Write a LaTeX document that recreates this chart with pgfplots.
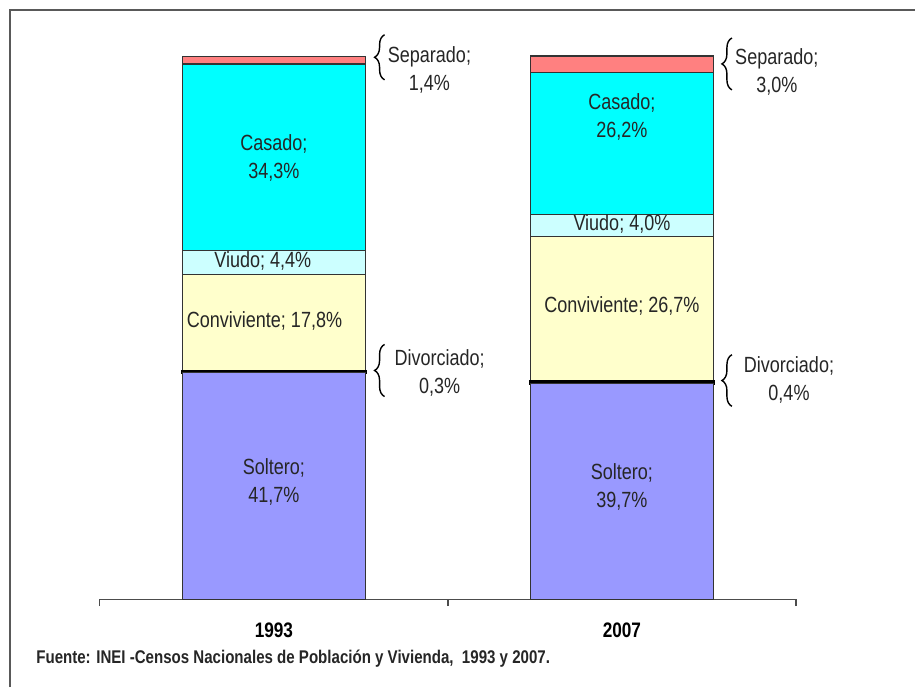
\documentclass[border=0pt]{standalone}
\usepackage{pgfplots}
\pgfplotsset{compat=1.18}
\usepackage{fontspec}
\setmainfont{Liberation Sans}[FakeStretch=0.82]
\usetikzlibrary{decorations.pathreplacing}

\definecolor{soltero}{HTML}{9999FF}
\definecolor{conviv}{HTML}{FFFFCC}
\definecolor{viudo}{HTML}{CCFFFF}
\definecolor{casado}{HTML}{00FFFF}
\definecolor{separado}{HTML}{FF8080}

\begin{document}
\begin{tikzpicture}[
    lbl/.style={font=\fontsize{11}{14}\selectfont, align=center, text=black!85},
    br/.style={decorate, decoration={brace, amplitude=5pt}, line width=0.7pt, black}
  ]
  % background and frame (picture is 916x688 px at 0.5pt per px)
  \path[fill=white] (-50pt,-44pt) rectangle (408pt,300pt);
  \draw[black!65, line width=1.2pt] (-45pt,-44pt) -- (-45pt,295pt) -- (408pt,295pt);

  \begin{axis}[
      scale only axis,
      width=348.5pt, height=272pt,
      xmin=0, xmax=2, ymin=0, ymax=100,
      enlargelimits=false,
      clip=false,
      axis x line=bottom, axis y line=none,
      x axis line style={-, black!70, line width=0.6pt},
      xtick={0,1,2},
      xticklabels={1993,2007},
      x tick label as interval,
      xtick style={black!70, line width=0.6pt},
      tick align=outside,
      major tick length=3.5pt,
      xticklabel style={font=\bfseries\fontsize{10.5}{12}\selectfont, yshift=-5pt},
      ybar stacked,
      bar width=0.525,
      every axis plot/.append style={draw=black!80, line width=0.6pt},
    ]
    % Soltero
    \addplot[fill=soltero] coordinates {(0.5,41.7) (1.5,39.7)};
    % Divorciado
    \addplot[fill=black, draw=black, line width=1.3pt] coordinates {(0.5,0.3) (1.5,0.4)};
    % Conviviente
    \addplot[fill=conviv] coordinates {(0.5,17.8) (1.5,26.7)};
    % Viudo
    \addplot[fill=viudo] coordinates {(0.5,4.4) (1.5,4.0)};
    % Casado
    \addplot[fill=casado] coordinates {(0.5,34.3) (1.5,26.2)};
    % Separado
    \addplot[fill=separado] coordinates {(0.5,1.4) (1.5,3.0)};

    % label anchors, used after the axis so the text sits above the bars
    \coordinate (sol1) at (axis cs:0.5,21.5);
    \coordinate (sol2) at (axis cs:1.5,20.6);
    \coordinate (con1) at (axis cs:0.473,51.3);
    \coordinate (con2) at (axis cs:1.5,53.9);
    \coordinate (viu1) at (axis cs:0.468,62.3);
    \coordinate (viu2) at (axis cs:1.5,69.1);
    \coordinate (cas1) at (axis cs:0.5,81.25);
    \coordinate (cas2) at (axis cs:1.5,88.8);

    % labels outside with braces
    \draw[br] (axis cs:0.818,95.6) -- (axis cs:0.818,103.9);
    \node[lbl] at (axis cs:0.947,97.5) {Separado;\\1,4\%};
    \draw[br] (axis cs:1.816,93.75) -- (axis cs:1.816,103.3);
    \node[lbl] at (axis cs:1.945,97.0) {Separado;\\3,0\%};
    \draw[br] (axis cs:0.818,37.3) -- (axis cs:0.818,46.9);
    \node[lbl] at (axis cs:0.976,41.7) {Divorciado;\\0,3\%};
    \draw[br] (axis cs:1.816,35.5) -- (axis cs:1.816,45.0);
    \node[lbl] at (axis cs:1.980,40.3) {Divorciado;\\0,4\%};
  \end{axis}

  \node[lbl] at (sol1) {Soltero;\\41,7\%};
  \node[lbl] at (sol2) {Soltero;\\39,7\%};
  \node[lbl] at (con1) {Conviviente; 17,8\%};
  \node[lbl] at (con2) {Conviviente; 26,7\%};
  \node[lbl] at (viu1) {Viudo; 4,4\%};
  \node[lbl] at (viu2) {Viudo; 4,0\%};
  \node[lbl] at (cas1) {Casado;\\34,3\%};
  \node[lbl] at (cas2) {Casado;\\26,2\%};

  \node[anchor=west, font=\bfseries\fontsize{9.2}{11}\selectfont, text=black!85, inner sep=0pt]
    at (-32pt,-30pt) {Fuente: INEI -Censos Nacionales de Población y Vivienda,\ \ 1993 y 2007.};
\end{tikzpicture}
\end{document}
